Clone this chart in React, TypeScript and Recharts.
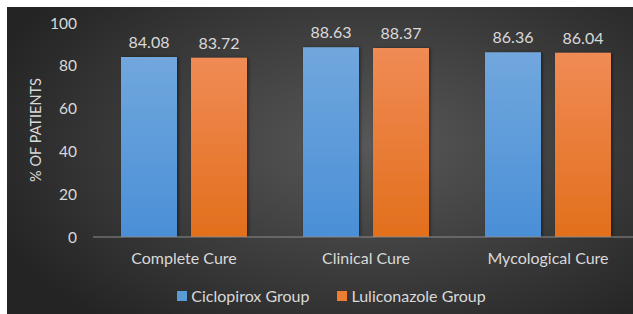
import { BarChart, Bar, XAxis, YAxis, Legend, LabelList } from 'recharts';

const categories = ['Complete Cure', 'Clinical Cure', 'Mycological Cure'];
const ciclopirox = [84.08, 88.63, 86.36];
const luliconazole = [83.72, 88.37, 86.04];
const yTicks = [0, 20, 40, 60, 80, 100];

const series = [
    { key: 'ciclopirox', name: 'Ciclopirox Group', color: '#5b9bd5', grad: 'gradBlue' },
    { key: 'luliconazole', name: 'Luliconazole Group', color: '#ed7d31', grad: 'gradOrange' },
];

const data = categories.map((c, i) => ({
    category: c,
    ciclopirox: ciclopirox[i],
    luliconazole: luliconazole[i],
}));

const FONT = 'Lato, "Open Sans", sans-serif';
const TEXT = '#d9d9d9';

// plot area: top 16, height 214 (chart coords)
const YTitle = () => {
    const cx = 28;
    const cy = 16 + 214 / 2;
    return (
        <text
            x={cx}
            y={cy}
            transform={`rotate(-90, ${cx}, ${cy})`}
            textAnchor="middle"
            dominantBaseline="central"
            fill={TEXT}
            fontSize={14.5}
            fontFamily={FONT}
        >
            % OF PATIENTS
        </text>
    );
};

const renderLegend = () => (
    <div
        style={{
            height: 37,
            display: 'flex',
            alignItems: 'center',
            justifyContent: 'center',
            paddingLeft: 9,
            fontFamily: FONT,
            fontSize: 16,
            color: TEXT,
        }}
    >
        {series.map((s) => (
            <div key={s.key} style={{ display: 'flex', alignItems: 'center', margin: '0 14px' }}>
                <span style={{ width: 10, height: 10, background: s.color, marginRight: 4, display: 'inline-block' }} />
                <span>{s.name}</span>
            </div>
        ))}
    </div>
);

export default function App() {
    return (
        <div
            style={{
                position: 'absolute',
                left: 7,
                top: 7,
                width: 626,
                height: 307,
                overflow: 'hidden',
                background: 'radial-gradient(ellipse 65% 75% at 58% 45%, #585858 0%, #3c3c3c 55%, #242424 100%)',
            }}
        >
            <BarChart
                width={640}
                height={307}
                data={data}
                margin={{ top: 16, right: 8, left: 0, bottom: 0 }}
                barSize={56}
                barGap={14}
            >
                <defs>
                    <linearGradient id="gradBlue" x1="0" y1="0" x2="0" y2="1">
                        <stop offset="0%" stopColor="#71a7dd" />
                        <stop offset="100%" stopColor="#4a8fd7" />
                    </linearGradient>
                    <linearGradient id="gradOrange" x1="0" y1="0" x2="0" y2="1">
                        <stop offset="0%" stopColor="#f08b55" />
                        <stop offset="100%" stopColor="#e26f1c" />
                    </linearGradient>
                    <filter id="barShadow" x="-20%" y="-5%" width="140%" height="110%">
                        <feDropShadow dx="1.5" dy="0" stdDeviation="1.5" floodColor="#000" floodOpacity="0.45" />
                    </filter>
                </defs>
                <XAxis
                    dataKey="category"
                    height={40}
                    stroke="#8c8c8c"
                    tickLine={false}
                    tickMargin={10}
                    tick={{ fill: TEXT, fontSize: 16, fontFamily: FONT }}
                />
                <YAxis
                    width={86}
                    domain={[0, 100]}
                    ticks={yTicks}
                    axisLine={false}
                    tickLine={false}
                    tickMargin={10}
                    tick={{ fill: TEXT, fontSize: 15.5, fontFamily: FONT }}
                    label={<YTitle />}
                />
                <Legend
                    verticalAlign="bottom"
                    content={renderLegend}
                    wrapperStyle={{ left: 0, width: 640, height: 37, bottom: 0 }}
                />
                {series.map((s) => (
                    <Bar
                        key={s.key}
                        dataKey={s.key}
                        name={s.name}
                        fill={`url(#${s.grad})`}
                        filter="url(#barShadow)"
                        isAnimationActive={false}
                    >
                        <LabelList
                            dataKey={s.key}
                            position="top"
                            offset={9}
                            fill={TEXT}
                            fontSize={16}
                            fontFamily={FONT}
                        />
                    </Bar>
                ))}
            </BarChart>
        </div>
    );
}
